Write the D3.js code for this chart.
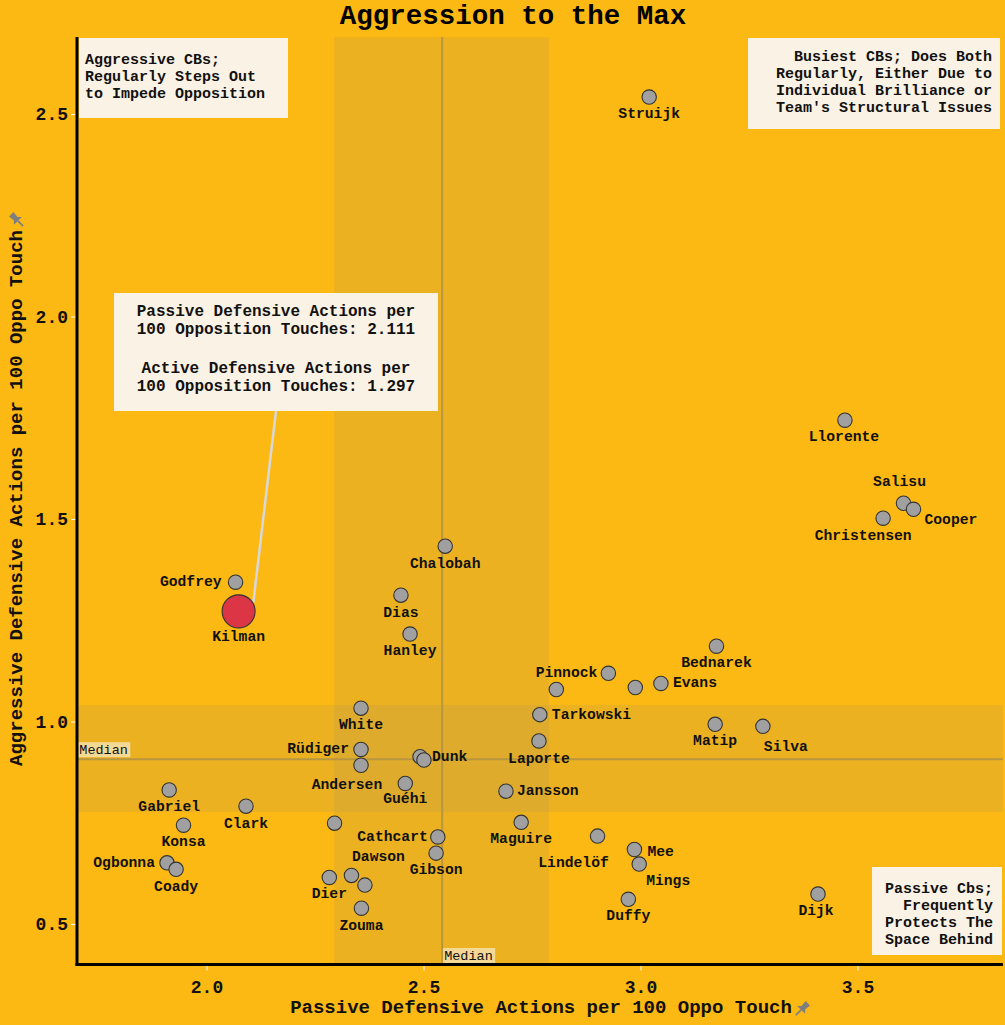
<!DOCTYPE html>
<html>
<head>
<meta charset="utf-8">
<script src="https://cdn.jsdelivr.net/npm/d3@7"></script>
<style>
  html, body { margin: 0; padding: 0; background: #FCB813; }
  svg { display: block; }
  text { font-family: "Courier New", "Nimbus Mono PS", "FreeMono", "Liberation Mono", monospace; }
</style>
</head>
<body>
<svg id="chart" width="1005" height="1025"></svg>
<script>
// ---------------- DATA ----------------
const players = ["Struijk","Llorente","Salisu","Cooper","Christensen","Chalobah","Godfrey","Kilman",
  "Dias","Hanley","Bednarek","Pinnock","Evans","White","Tarkowski","Matip","Silva","Laporte",
  "Rüdiger","Dunk","Andersen","Guéhi","Jansson","Gabriel","Clark","Konsa","Cathcart","Maguire",
  "Dawson","Gibson","Ogbonna","Coady","Dier","Zouma","Lindelöf","Mee","Mings","Duffy","Dijk",
  "","","","",""];
const passive = [3.020,3.471,3.606,3.629,3.559,2.550,2.067,2.074,
  2.448,2.469,3.175,2.926,3.047,2.356,2.768,3.172,3.282,2.766,
  2.356,2.492,2.356,2.458,2.690,1.914,2.091,1.947,2.533,2.725,
  2.334,2.529,1.909,1.930,2.283,2.357,2.901,2.986,2.997,2.972,3.409,
  2.295,2.806,2.988,2.501,2.365];
const aggressive = [2.542,1.744,1.539,1.524,1.502,1.433,1.344,1.272,
  1.312,1.216,1.186,1.119,1.094,1.033,1.017,0.993,0.988,0.952,
  0.931,0.913,0.892,0.847,0.828,0.831,0.791,0.744,0.715,0.751,
  0.620,0.675,0.651,0.635,0.615,0.539,0.717,0.684,0.648,0.561,0.574,
  0.749,1.079,1.084,0.905,0.596];
const highlighted = "Kilman";
const medianPassive = 2.543;
const medianAggressive = 0.907;
const bandPassive = [2.294, 2.789];
const bandAggressive = [0.7765, 1.0407];
const xTicks = [2.0, 2.5, 3.0, 3.5];
const yTicks = [0.5, 1.0, 1.5, 2.0, 2.5];
const titleText = "Aggression to the Max";
const xLabel = "Passive Defensive Actions per 100 Oppo Touch";
const yLabel = "Aggressive Defensive Actions per 100 Oppo Touch";
const boxTopLeft = ["Aggressive CBs;", "Regularly Steps Out", "to Impede Opposition"];
const boxTopRight = ["Busiest CBs; Does Both", "Regularly, Either Due to", "Individual Brilliance or", "Team's Structural Issues"];
const boxBottomRight = ["Passive Cbs;", "Frequently", "Protects The", "Space Behind"];
const tooltipLines = ["Passive Defensive Actions per", "100 Opposition Touches: 2.111", "",
  "Active Defensive Actions per", "100 Opposition Touches: 1.297"];

// label placement (pixel offsets from the point; layout only)
const labelLayout = {
  "Struijk":[0,17,"middle"], "Llorente":[-1,17,"middle"], "Salisu":[-4,-21,"middle"],
  "Cooper":[11,11,"start"], "Christensen":[-20,18,"middle"], "Chalobah":[0,18,"middle"],
  "Godfrey":[-14,0,"end"], "Kilman":[0,26,"middle"], "Dias":[0,18,"middle"], "Hanley":[0,17,"middle"],
  "Bednarek":[0,17,"middle"], "Pinnock":[-11,0,"end"], "Evans":[12,0,"start"], "White":[0,17,"middle"],
  "Tarkowski":[12,0,"start"], "Matip":[0,17,"middle"], "Silva":[23,21,"middle"], "Laporte":[0,18,"middle"],
  "Rüdiger":[-12,0,"end"], "Dunk":[12,0,"start"], "Andersen":[-14,20,"middle"], "Guéhi":[0,16,"middle"],
  "Jansson":[11,0,"start"], "Gabriel":[0,17,"middle"], "Clark":[0,18,"middle"], "Konsa":[0,17,"middle"],
  "Cathcart":[-10,0,"end"], "Maguire":[0,17,"middle"], "Dawson":[27,-18,"middle"], "Gibson":[0,17,"middle"],
  "Ogbonna":[-12,0,"end"], "Coady":[0,18,"middle"], "Dier":[0,17,"middle"], "Zouma":[0,18,"middle"],
  "Lindelöf":[-24,27,"middle"], "Mee":[13,3,"start"], "Mings":[29,17,"middle"], "Duffy":[0,17,"middle"],
  "Dijk":[-2,17,"middle"]
};

// ---------------- CHART ----------------
const svg = d3.select("#chart");
const bg = "#FCB813";
const cream = "#FAF2E4";
const x = d3.scaleLinear().domain([1.70, 3.835]).range([76.3, 1002.9]);
const y = d3.scaleLinear().domain([0.4, 2.69]).range([964.5, 37.1]);
const [x0, x1] = x.range();
const [y0, y1] = y.range();

svg.append("rect").attr("width",1005).attr("height",1025).attr("fill",bg);

// bands
svg.append("rect").attr("x", x(bandPassive[0])).attr("y", y1)
  .attr("width", x(bandPassive[1]) - x(bandPassive[0])).attr("height", y0 - y1)
  .attr("fill", "rgba(128,128,128,0.13)");
svg.append("rect").attr("x", x0).attr("y", y(bandAggressive[1]))
  .attr("width", x1 - x0).attr("height", y(bandAggressive[0]) - y(bandAggressive[1]))
  .attr("fill", "rgba(128,128,128,0.13)");

// median lines
svg.append("line").attr("x1", x(medianPassive)).attr("x2", x(medianPassive))
  .attr("y1", y1).attr("y2", y0).attr("stroke", "#B8963F").attr("stroke-width", 2);
svg.append("line").attr("x1", x0).attr("x2", x1)
  .attr("y1", y(medianAggressive)).attr("y2", y(medianAggressive))
  .attr("stroke", "#B8963F").attr("stroke-width", 2);

// median labels
function medianLabel(px, py) {
  const g = svg.append("g");
  g.append("rect").attr("x", px).attr("y", py - 8).attr("width", 52).attr("height", 15)
    .attr("fill", "rgba(250,242,228,0.6)");
  g.append("text").attr("x", px + 1).attr("y", py).attr("dominant-baseline", "central")
    .attr("font-size", 13.5).attr("fill", "#111").text("Median");
}
medianLabel(x0 + 2, y(medianAggressive) - 9);
medianLabel(x(medianPassive) + 1, 956);

// axes
const xAxis = d3.axisBottom(x).tickValues(xTicks).tickFormat(d3.format(".1f")).tickSize(6).tickPadding(6);
const yAxis = d3.axisLeft(y).tickValues(yTicks).tickFormat(d3.format(".1f")).tickSize(6).tickPadding(3);
const gx = svg.append("g").attr("transform", `translate(0,${y0})`).call(xAxis);
const gy = svg.append("g").attr("transform", `translate(${x0 + 0.7},0)`).call(yAxis);
[gx, gy].forEach(g => {
  g.select(".domain").remove();
  g.selectAll(".tick line").attr("stroke", "#FFFFFF").attr("stroke-width", 1);
  g.selectAll(".tick text").attr("font-family", null).attr("font-weight", "bold")
    .attr("font-size", 18).attr("fill", "#111");
});
gx.selectAll(".tick text").attr("dy", "0.9em");

// spines
svg.append("line").attr("x1", x0 + 0.7).attr("x2", x0 + 0.7).attr("y1", y1).attr("y2", y0 + 1.5)
  .attr("stroke", "#000").attr("stroke-width", 3);
svg.append("line").attr("x1", x0 - 0.8).attr("x2", x1).attr("y1", y0).attr("y2", y0)
  .attr("stroke", "#000").attr("stroke-width", 3);

// annotation boxes
function textBox(bx, by, bw, bh, lines, anchor, tx, ty0, step, fs) {
  svg.append("rect").attr("x", bx).attr("y", by).attr("width", bw).attr("height", bh).attr("fill", cream);
  lines.forEach((l, i) => {
    svg.append("text").attr("x", tx).attr("y", ty0 + i * step).attr("dominant-baseline", "central")
      .attr("text-anchor", anchor).attr("font-size", fs).attr("font-weight", "bold")
      .attr("fill", "#111").text(l);
  });
}
textBox(79, 38, 209, 80, boxTopLeft, "start", 85, 60, 17, 15);
textBox(748, 38, 252, 91, boxTopRight, "end", 992, 57, 17.2, 15);
textBox(872, 867, 130, 88, boxBottomRight, "end", 993, 889, 17, 15);

// points
const pts = players.map((n, i) => ({ name: n, px: passive[i], ay: aggressive[i] }));
svg.append("g").selectAll("circle").data(pts.filter(d => d.name !== highlighted)).join("circle")
  .attr("cx", d => x(d.px)).attr("cy", d => y(d.ay)).attr("r", 7.2)
  .attr("fill", "#A0A0A0").attr("stroke", "#333").attr("stroke-width", 1.1);

// labels
svg.append("g").selectAll("text").data(pts.filter(d => d.name && labelLayout[d.name])).join("text")
  .attr("x", d => x(d.px) + labelLayout[d.name][0])
  .attr("y", d => y(d.ay) + labelLayout[d.name][1])
  .attr("text-anchor", d => labelLayout[d.name][2])
  .attr("dominant-baseline", "central")
  .attr("font-size", 14.7).attr("font-weight", "bold").attr("fill", "#111")
  .text(d => d.name);

// highlighted point + tooltip
const hp = pts.find(d => d.name === highlighted);
const hx = x(hp.px), hy = y(hp.ay);
svg.append("line").attr("x1", 276).attr("y1", 411).attr("x2", 253.3).attr("y2", 602.5)
  .attr("stroke", "#D8D8D8").attr("stroke-width", 2.5);
svg.append("circle").attr("cx", hx).attr("cy", hy).attr("r", 16.5)
  .attr("fill", "#DC3545").attr("stroke", "#333").attr("stroke-width", 1.1);

svg.append("rect").attr("x", 114).attr("y", 293).attr("width", 324).attr("height", 118).attr("fill", cream);
const tyPos = [311.7, 329.5, 349, 369.3, 387.3];
tooltipLines.forEach((l, i) => {
  svg.append("text").attr("x", 276).attr("y", tyPos[i]).attr("dominant-baseline", "central")
    .attr("text-anchor", "middle").attr("font-size", 16).attr("font-weight", "bold")
    .attr("fill", "#111").text(l);
});

// title
svg.append("text").attr("x", 513).attr("y", 24).attr("text-anchor", "middle")
  .attr("font-size", 27.5).attr("font-weight", "bold").attr("fill", "#000").text(titleText);

// pin icon
function pin(cx, cy, rot) {
  const g = svg.append("g").attr("transform", `translate(${cx},${cy}) rotate(${rot}) scale(1.25)`);
  g.append("path").attr("d", "M-2.5,-6.5 L2.5,-6.5 L2,-1.5 L4.5,1 L-4.5,1 L-2,-1.5 Z").attr("fill", "#7E7E7E");
  g.append("line").attr("x1", 0).attr("y1", 1).attr("x2", 0).attr("y2", 7).attr("stroke", "#7E7E7E").attr("stroke-width", 1.3);
}

// axis titles
svg.append("text").attr("x", 541).attr("y", 1008).attr("text-anchor", "middle")
  .attr("dominant-baseline", "central").attr("font-size", 19).attr("font-weight", "bold")
  .attr("fill", "#111").text(xLabel);
pin(802, 1009, 45);
svg.append("text").attr("transform", "translate(17,498) rotate(-90)").attr("text-anchor", "middle")
  .attr("dominant-baseline", "central").attr("font-size", 19).attr("font-weight", "bold")
  .attr("fill", "#111").text(yLabel);
pin(17, 220, -45);
</script>
</body>
</html>
